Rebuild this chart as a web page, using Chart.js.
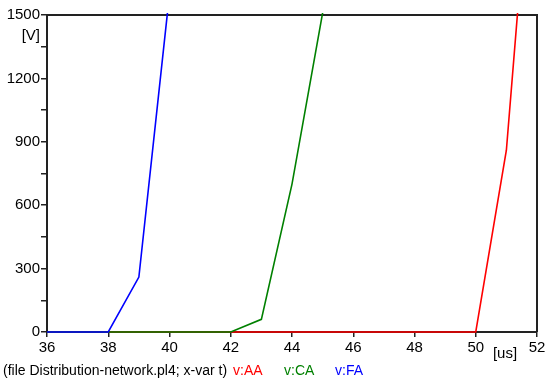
<!DOCTYPE html>
<html>
<head>
<meta charset="utf-8">
<script src="https://cdn.jsdelivr.net/npm/chart.js@4.4.1/dist/chart.umd.min.js"></script>
<style>
  html, body { margin: 0; padding: 0; background: #fff; }
  #wrap { width: 550px; height: 383px; }
</style>
</head>
<body>
<div id="wrap"><canvas id="chart" width="550" height="383"></canvas></div>
<script>
// time axis in microseconds, one sample per us
const timeUs = [36, 37, 38, 39, 40, 41, 42, 43, 44, 45, 46, 47, 48, 49, 50, 51, 52];

// voltages [V] (null = past the end of the trace)
const vAA = [0, 0, 0, 0, 0, 0, 0, 0, 0, 0, 0, 0, 0, 0, 0, 860, 2640];
const vCA = [0, 0, 0, 0, 0, 0, 0, 60, 700, 1510, null, null, null, null, null, null, null];
const vFA = [0, 0, 0, 260, 1600, null, null, null, null, null, null, null, null, null, null, null, null];

const seriesNames = ["v:AA", "v:CA", "v:FA"];
const seriesColors = ["#ff0000", "#008000", "#0000ff"];
const footerX = [233, 284, 335];

const FONT = "'Liberation Sans', Arial, sans-serif";
const AXIS_COLOR = "#222";

const toPoints = (values) =>
  timeUs.map((t, i) => ({ x: t, y: values[i] })).filter((p) => p.y !== null);

const makeDataset = (i, values, order) => ({
  label: seriesNames[i],
  data: toPoints(values),
  borderColor: seriesColors[i],
  backgroundColor: seriesColors[i],
  borderWidth: 1.6,
  pointRadius: 0,
  tension: 0,
  fill: false,
  order: order,
  clip: { left: 4, top: 2, right: 4, bottom: 4 },
});

// frame on top/right, unit labels and the footer line
const decorations = {
  id: "decorations",
  beforeDatasetsDraw(chart) {
    const { ctx, chartArea } = chart;
    ctx.save();
    ctx.strokeStyle = AXIS_COLOR;
    ctx.lineWidth = 2;
    ctx.beginPath();
    ctx.moveTo(chartArea.left, chartArea.top);
    ctx.lineTo(chartArea.right, chartArea.top);
    ctx.lineTo(chartArea.right, chartArea.bottom);
    ctx.stroke();
    ctx.restore();
  },
  afterDraw(chart) {
    const { ctx } = chart;
    ctx.save();
    ctx.fillStyle = "#000";
    ctx.font = "15px " + FONT;
    ctx.textBaseline = "middle";
    ctx.textAlign = "right";
    ctx.fillText("[V]", 40, 36);
    ctx.textAlign = "center";
    ctx.fillText("[us]", 505, 354);

    ctx.font = "14px " + FONT;
    ctx.textAlign = "left";
    const y = 371;
    ctx.fillText("(file Distribution-network.pl4; x-var t)", 3, y);
    seriesNames.forEach((name, i) => {
      ctx.fillStyle = seriesColors[i];
      ctx.fillText(name, footerX[i], y);
    });
    ctx.restore();
  },
};

const initChart = () => {
  const context = document.getElementById("chart").getContext("2d");
  new Chart(context, {
    type: "line",
    data: {
      datasets: [
        makeDataset(0, vAA, 3),
        makeDataset(1, vCA, 2),
        makeDataset(2, vFA, 1),
      ],
    },
    options: {
      responsive: false,
      animation: false,
      layout: { padding: { top: 15, right: 13, left: 0, bottom: 0 } },
      plugins: {
        legend: { display: false },
        tooltip: { enabled: false },
      },
      scales: {
        x: {
          type: "linear",
          min: 36,
          max: 52,
          afterFit: (scale) => { scale.height = 51; },
          ticks: {
            stepSize: 2,
            autoSkip: false,
            maxRotation: 0,
            padding: 2,
            color: "#000",
            font: { family: FONT, size: 15 },
          },
          grid: {
            drawOnChartArea: false,
            drawTicks: true,
            tickLength: 5,
            color: AXIS_COLOR,
            lineWidth: 1.5,
          },
          border: { display: true, color: AXIS_COLOR, width: 2 },
        },
        y: {
          min: 0,
          max: 1500,
          afterFit: (scale) => { scale.width = 47; },
          ticks: {
            stepSize: 150,
            autoSkip: false,
            padding: 1,
            color: "#000",
            font: { family: FONT, size: 15 },
            callback: (v) => (v % 300 === 0 ? v : ""),
          },
          grid: {
            drawOnChartArea: false,
            drawTicks: true,
            tickLength: 6,
            color: AXIS_COLOR,
            lineWidth: 1.5,
          },
          border: { display: true, color: AXIS_COLOR, width: 2 },
        },
      },
    },
    plugins: [decorations],
  });
};

window.addEventListener("DOMContentLoaded", initChart);
</script>
</body>
</html>
